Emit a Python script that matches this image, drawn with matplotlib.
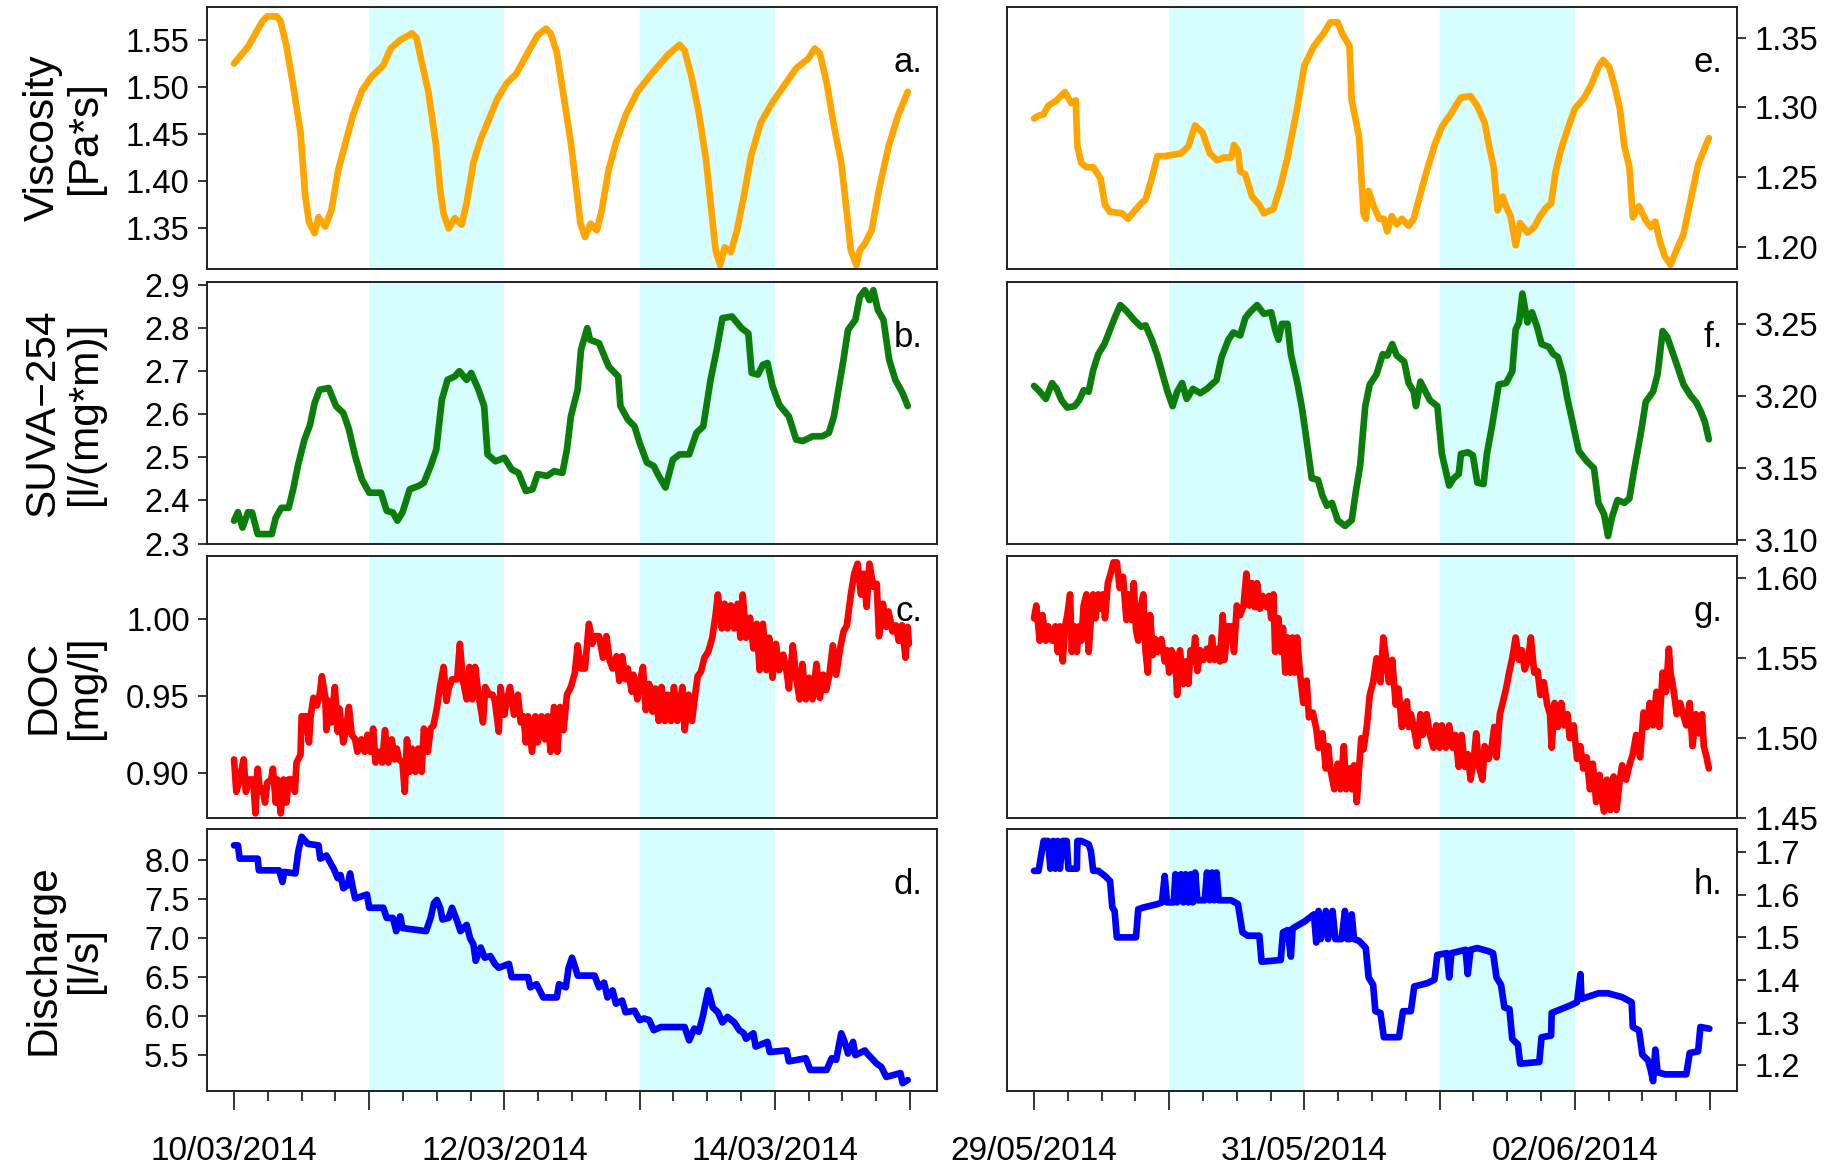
import numpy as np
import matplotlib
matplotlib.use('Agg')
import matplotlib.pyplot as plt
from matplotlib import font_manager
from matplotlib.ticker import FixedLocator

# ---- data: (hour since start, value) ----
visc_mar = [(0, 1.525), (2.5, 1.543), (5.05, 1.570), (5.9, 1.575), (7.6, 1.575), (8.25, 1.570), (9.26, 1.545),
            (10.5, 1.502), (11.8, 1.452), (12.6, 1.387), (13.3, 1.357), (14.3, 1.345), (15.0, 1.362), (16.2, 1.352),
            (17.3, 1.370), (18.5, 1.412), (19.8, 1.441), (21.1, 1.470), (22.7, 1.496), (24.4, 1.511), (26.5, 1.523),
            (27.8, 1.541), (29.5, 1.550), (31.6, 1.557), (32.4, 1.552), (33.3, 1.527), (34.5, 1.495), (35.8, 1.441),
            (36.6, 1.391), (37.2, 1.366), (38.1, 1.350), (39.2, 1.361), (40.4, 1.354), (41.3, 1.377), (42.5, 1.420),
            (43.8, 1.445), (45.0, 1.462), (46.7, 1.487), (48.4, 1.504), (50.1, 1.514), (52.2, 1.537), (53.9, 1.555),
            (55.4, 1.562), (56.2, 1.557), (57.3, 1.537), (58.5, 1.491), (59.8, 1.441), (60.8, 1.391), (61.5, 1.355),
            (62.3, 1.341), (63.3, 1.355), (64.4, 1.348), (65.3, 1.370), (66.5, 1.412), (67.8, 1.441), (69.5, 1.470),
            (71.6, 1.495), (74.1, 1.514), (77.0, 1.534), (79.1, 1.545), (80.0, 1.539), (81.3, 1.509), (82.5, 1.473),
            (83.8, 1.423), (84.6, 1.377), (85.5, 1.327), (86.3, 1.311), (87.1, 1.330), (88.2, 1.325), (89.3, 1.348),
            (90.5, 1.384), (91.8, 1.427), (93.5, 1.462), (95.6, 1.484), (97.7, 1.502), (99.8, 1.520), (101.9, 1.530),
            (103.1, 1.541), (104.0, 1.536), (105.2, 1.505), (106.5, 1.459), (107.8, 1.420), (108.6, 1.377),
            (109.5, 1.327), (110.5, 1.311), (111.1, 1.327), (112.0, 1.334), (113.2, 1.348), (114.5, 1.391),
            (116.2, 1.437), (117.9, 1.470), (119.6, 1.495)]

suva_mar = [(0, 2.353), (0.7, 2.373), (1.5, 2.337), (2.5, 2.373), (3.2, 2.372), (4.2, 2.322), (6.7, 2.322),
            (7.4, 2.360), (8.4, 2.383), (9.7, 2.383), (10.5, 2.426), (11.4, 2.484), (12.5, 2.541), (13.5, 2.576),
            (14.3, 2.626), (15.2, 2.657), (16.8, 2.661), (18.1, 2.619), (19.4, 2.603), (20.4, 2.565), (21.5, 2.503),
            (22.7, 2.449), (24.0, 2.418), (26.1, 2.418), (27.1, 2.376), (28.2, 2.372), (29.0, 2.353), (29.9, 2.372),
            (31.2, 2.426), (32.8, 2.434), (33.7, 2.441), (34.9, 2.480), (35.9, 2.518), (36.9, 2.634), (37.9, 2.680),
            (39.2, 2.688), (40.0, 2.700), (41.3, 2.680), (42.1, 2.696), (43.4, 2.657), (44.4, 2.619), (45.0, 2.507),
            (46.4, 2.491), (48.0, 2.499), (49.3, 2.472), (50.5, 2.464), (51.8, 2.422), (53.0, 2.426), (53.9, 2.461),
            (55.6, 2.457), (56.8, 2.468), (58.3, 2.464), (59.1, 2.518), (59.8, 2.595), (61.0, 2.657), (61.6, 2.750),
            (62.7, 2.800), (63.2, 2.773), (64.8, 2.765), (66.5, 2.711), (68.2, 2.688), (68.6, 2.619), (69.9, 2.588),
            (71.1, 2.572), (72.0, 2.534), (73.3, 2.488), (74.5, 2.480), (75.4, 2.457), (76.6, 2.430), (77.9, 2.495),
            (79.1, 2.507), (80.8, 2.507), (82.1, 2.557), (83.3, 2.572), (84.6, 2.680), (85.7, 2.750), (86.7, 2.823),
            (88.4, 2.827), (90.1, 2.800), (91.3, 2.788), (91.9, 2.696), (93.0, 2.692), (93.9, 2.715), (94.7, 2.719),
            (95.6, 2.665), (96.8, 2.622), (98.5, 2.595), (99.8, 2.541), (101.0, 2.538), (102.7, 2.549),
            (104.4, 2.549), (105.6, 2.557), (106.5, 2.595), (108.2, 2.727), (109.0, 2.796), (110.3, 2.819),
            (111.1, 2.873), (112.0, 2.888), (112.8, 2.865), (113.5, 2.888), (114.3, 2.842), (115.3, 2.819),
            (116.3, 2.727), (117.4, 2.680), (118.7, 2.649), (119.6, 2.619)]

doc_mar = [(0.0, 0.909), (0.4, 0.888), (1.0, 0.896), (1.7, 0.909), (2.1, 0.888), (2.7, 0.896), (3.4, 0.896),
           (3.8, 0.874), (4.2, 0.903), (4.6, 0.888), (5.1, 0.890), (5.5, 0.881), (5.9, 0.894), (6.6, 0.896),
           (6.9, 0.903), (7.4, 0.881), (7.7, 0.896), (8.3, 0.874), (8.8, 0.896), (9.3, 0.881), (9.7, 0.896),
           (10.3, 0.896), (10.8, 0.888), (11.1, 0.907), (11.8, 0.912), (12.0, 0.937), (12.8, 0.937), (13.3, 0.920),
           (13.6, 0.937), (14.1, 0.949), (14.7, 0.944), (15.2, 0.951), (15.6, 0.963), (16.2, 0.949), (16.4, 0.928),
           (16.8, 0.947), (17.3, 0.933), (17.9, 0.956), (18.4, 0.927), (18.7, 0.942), (19.4, 0.920), (19.8, 0.927),
           (20.4, 0.943), (20.9, 0.925), (21.5, 0.922), (21.9, 0.914), (22.6, 0.922), (23.2, 0.914), (23.7, 0.925),
           (24.2, 0.914), (24.7, 0.929), (25.1, 0.907), (25.7, 0.914), (26.3, 0.907), (26.8, 0.928), (27.4, 0.907),
           (28.0, 0.922), (28.5, 0.909), (28.9, 0.916), (29.3, 0.909), (29.9, 0.907), (30.3, 0.888), (30.7, 0.922),
           (31.2, 0.901), (31.6, 0.916), (32.2, 0.901), (32.7, 0.916), (33.3, 0.901), (33.7, 0.929), (34.4, 0.914),
           (34.9, 0.929), (35.4, 0.931), (36.0, 0.942), (36.6, 0.957), (37.2, 0.969), (37.7, 0.947), (38.1, 0.955),
           (38.7, 0.961), (39.6, 0.961), (40.1, 0.984), (40.6, 0.961), (41.3, 0.948), (41.8, 0.969), (42.3, 0.948),
           (42.8, 0.969), (43.4, 0.951), (44.2, 0.933), (44.6, 0.956), (45.3, 0.951), (45.9, 0.951), (46.3, 0.947),
           (47.0, 0.927), (47.3, 0.956), (48.0, 0.938), (48.4, 0.947), (49.0, 0.956), (49.7, 0.938), (50.4, 0.951),
           (50.9, 0.933), (51.4, 0.937), (51.8, 0.920), (52.2, 0.937), (52.9, 0.914), (53.5, 0.937), (53.9, 0.920),
           (54.6, 0.937), (55.2, 0.922), (55.7, 0.937), (56.2, 0.914), (56.8, 0.943), (57.4, 0.914), (57.9, 0.943),
           (58.5, 0.928), (59.1, 0.951), (59.8, 0.956), (60.5, 0.965), (61.0, 0.983), (61.6, 0.968), (62.3, 0.968),
           (63.0, 0.997), (63.6, 0.984), (64.0, 0.989), (64.8, 0.989), (65.5, 0.975), (66.1, 0.989), (66.7, 0.973),
           (67.2, 0.968), (67.9, 0.976), (68.4, 0.960), (68.9, 0.976), (69.5, 0.961), (69.9, 0.968), (70.6, 0.953),
           (70.9, 0.964), (71.6, 0.948), (72.0, 0.958), (72.6, 0.969), (73.1, 0.941), (73.7, 0.958), (74.3, 0.940),
           (74.8, 0.955), (75.4, 0.934), (75.9, 0.956), (76.5, 0.934), (77.0, 0.951), (77.6, 0.934), (78.1, 0.956),
           (78.7, 0.934), (79.1, 0.944), (79.6, 0.956), (80.0, 0.928), (80.7, 0.951), (81.3, 0.934), (81.8, 0.949),
           (82.3, 0.963), (82.9, 0.966), (83.5, 0.975), (84.2, 0.979), (84.9, 0.988), (85.5, 1.003), (85.9, 1.016),
           (86.6, 0.994), (87.1, 1.010), (87.6, 0.994), (88.2, 1.009), (88.8, 0.994), (89.4, 1.010), (89.9, 0.988),
           (90.3, 1.016), (90.9, 0.988), (91.6, 1.001), (92.2, 0.981), (92.8, 0.997), (93.3, 0.967), (93.9, 0.997),
           (94.5, 0.967), (95.0, 0.988), (95.6, 0.962), (96.2, 0.984), (96.8, 0.967), (97.5, 0.977), (98.1, 0.966),
           (98.5, 0.955), (99.2, 0.983), (99.8, 0.962), (100.4, 0.948), (100.9, 0.971), (101.5, 0.948),
           (102.1, 0.962), (102.7, 0.948), (103.4, 0.971), (104.0, 0.949), (104.6, 0.964), (105.1, 0.954),
           (105.7, 0.964), (106.3, 0.983), (106.9, 0.964), (107.6, 0.981), (108.2, 0.992), (108.8, 0.996),
           (109.5, 1.016), (110.1, 1.0295), (110.7, 1.036), (111.3, 1.016), (111.8, 1.0295), (112.3, 1.008),
           (112.8, 1.036), (113.5, 1.021), (114.1, 1.023), (114.5, 0.989), (115.2, 1.010), (115.8, 0.995),
           (116.2, 1.005), (116.9, 0.992), (117.5, 0.996), (118.0, 0.986), (118.6, 0.996), (119.2, 0.975),
           (119.6, 0.995), (119.8, 0.984)]

q_mar = [(0.0, 8.19), (0.7, 8.19), (1.0, 8.02), (4.2, 8.02), (4.4, 7.87), (8.0, 7.87), (8.6, 7.72), (8.9, 7.85),
         (10.9, 7.83), (11.4, 8.11), (12.0, 8.30), (13.1, 8.21), (15.0, 8.19), (15.3, 8.02), (16.4, 8.06),
         (17.3, 7.94), (17.7, 7.89), (18.4, 7.77), (18.9, 7.81), (19.4, 7.64), (20.2, 7.68), (20.6, 7.83),
         (21.1, 7.64), (21.5, 7.51), (23.6, 7.56), (24.0, 7.39), (26.5, 7.39), (27.1, 7.26), (28.2, 7.26),
         (28.8, 7.09), (29.5, 7.28), (29.9, 7.13), (32.0, 7.11), (34.1, 7.09), (34.9, 7.26), (35.5, 7.45),
         (36.0, 7.49), (36.6, 7.39), (37.0, 7.24), (38.1, 7.26), (38.7, 7.39), (39.6, 7.22), (40.2, 7.09),
         (41.3, 7.17), (41.9, 7.00), (42.5, 6.92), (42.9, 6.71), (43.8, 6.88), (44.5, 6.75), (45.5, 6.77),
         (46.3, 6.67), (47.0, 6.62), (48.8, 6.67), (49.3, 6.50), (52.2, 6.50), (52.6, 6.37), (53.7, 6.41),
         (54.9, 6.24), (57.3, 6.24), (57.7, 6.41), (58.9, 6.37), (59.4, 6.62), (60.0, 6.75), (60.6, 6.62),
         (61.0, 6.52), (64.0, 6.52), (64.8, 6.37), (65.7, 6.43), (66.3, 6.24), (67.2, 6.33), (67.8, 6.16),
         (68.9, 6.20), (69.5, 6.05), (71.1, 6.07), (72.0, 5.95), (72.8, 5.97), (73.7, 5.95), (74.5, 5.82),
         (75.8, 5.86), (80.0, 5.86), (80.8, 5.69), (81.7, 5.84), (82.5, 5.80), (83.2, 5.99), (83.8, 6.20),
         (84.2, 6.33), (85.0, 6.11), (85.9, 6.05), (86.7, 5.92), (87.6, 5.99), (88.8, 5.92), (89.7, 5.82),
         (90.5, 5.78), (90.9, 5.71), (92.2, 5.78), (92.6, 5.61), (94.7, 5.67), (95.1, 5.54), (98.1, 5.56),
         (98.5, 5.42), (101.5, 5.46), (102.3, 5.31), (105.2, 5.31), (106.1, 5.46), (106.9, 5.44), (107.8, 5.78),
         (108.4, 5.67), (109.0, 5.52), (109.9, 5.67), (110.3, 5.50), (112.0, 5.56), (112.4, 5.52), (113.2, 5.46),
         (114.1, 5.39), (114.9, 5.35), (115.8, 5.22), (118.3, 5.27), (118.7, 5.14), (119.6, 5.18)]

visc_jun = [(0, 1.292), (0.8, 1.294), (1.7, 1.295), (2.5, 1.301), (4.0, 1.305), (5.5, 1.311), (6.6, 1.303),
            (7.4, 1.305), (7.7, 1.272), (8.4, 1.260), (9.3, 1.257), (10.5, 1.257), (11.8, 1.249), (12.6, 1.230),
            (13.5, 1.225), (15.6, 1.224), (16.7, 1.220), (17.7, 1.225), (19.0, 1.231), (19.8, 1.234), (20.9, 1.249),
            (21.9, 1.265), (23.2, 1.265), (26.1, 1.267), (27.4, 1.272), (28.6, 1.287), (29.9, 1.282), (31.2, 1.267),
            (32.5, 1.262), (33.7, 1.264), (35.0, 1.264), (35.5, 1.273), (36.2, 1.269), (36.6, 1.254), (37.5, 1.252),
            (38.7, 1.236), (40.0, 1.230), (40.8, 1.224), (42.5, 1.227), (43.8, 1.244), (45.0, 1.264), (46.7, 1.299),
            (48.0, 1.330), (49.7, 1.344), (51.4, 1.353), (52.6, 1.361), (53.9, 1.361), (54.7, 1.353), (56.0, 1.344),
            (56.4, 1.305), (57.7, 1.279), (58.5, 1.224), (58.9, 1.220), (59.4, 1.240), (60.2, 1.230), (61.3, 1.220),
            (62.1, 1.220), (62.7, 1.211), (63.5, 1.222), (64.4, 1.216), (65.3, 1.220), (66.5, 1.215), (67.4, 1.220),
            (68.6, 1.238), (69.9, 1.257), (71.2, 1.274), (72.4, 1.286), (74.1, 1.296), (75.8, 1.307), (77.5, 1.308),
            (78.7, 1.301), (80.0, 1.289), (80.8, 1.272), (81.6, 1.257), (82.3, 1.226), (83.2, 1.236), (83.8, 1.229),
            (84.6, 1.222), (85.5, 1.201), (86.3, 1.217), (87.6, 1.210), (88.8, 1.214), (89.7, 1.221), (90.9, 1.228),
            (91.8, 1.231), (92.6, 1.254), (93.5, 1.269), (94.7, 1.284), (96.0, 1.299), (97.7, 1.307), (98.9, 1.316),
            (100.2, 1.329), (101.0, 1.334), (102.1, 1.329), (103.1, 1.315), (104.0, 1.299), (104.8, 1.272),
            (105.7, 1.257), (106.3, 1.221), (107.4, 1.229), (108.6, 1.219), (109.5, 1.214), (110.3, 1.218),
            (111.1, 1.204), (112.0, 1.193), (113.0, 1.187), (114.1, 1.198), (115.3, 1.209), (116.6, 1.234),
            (117.9, 1.259), (118.9, 1.269), (119.8, 1.278)]

suva_jun = [(0, 3.207), (0.8, 3.204), (2.1, 3.198), (3.2, 3.209), (4.0, 3.205), (4.9, 3.197), (5.9, 3.192),
            (7.2, 3.193), (8.0, 3.197), (8.8, 3.204), (9.7, 3.203), (10.5, 3.218), (11.4, 3.229), (12.5, 3.236),
            (13.5, 3.246), (14.3, 3.254), (15.3, 3.263), (16.4, 3.259), (17.7, 3.253), (19.0, 3.248), (19.8, 3.249),
            (20.9, 3.239), (21.9, 3.228), (22.9, 3.214), (23.7, 3.203), (24.6, 3.193), (25.4, 3.203), (26.3, 3.209),
            (27.1, 3.198), (28.2, 3.205), (29.5, 3.202), (30.7, 3.205), (32.4, 3.211), (33.3, 3.227), (34.5, 3.239),
            (35.4, 3.244), (36.6, 3.242), (37.5, 3.254), (38.3, 3.258), (39.6, 3.263), (40.8, 3.257), (42.1, 3.258),
            (42.8, 3.246), (43.4, 3.239), (44.0, 3.250), (45.0, 3.250), (45.6, 3.229), (46.7, 3.210), (47.6, 3.191),
            (48.4, 3.169), (49.3, 3.143), (50.4, 3.142), (51.2, 3.131), (52.0, 3.124), (52.9, 3.126), (53.9, 3.114),
            (55.2, 3.110), (56.4, 3.114), (57.1, 3.133), (57.9, 3.152), (58.8, 3.193), (59.6, 3.208), (60.8, 3.215),
            (61.9, 3.229), (62.7, 3.228), (63.6, 3.236), (64.4, 3.228), (65.7, 3.224), (66.5, 3.209), (67.4, 3.203),
            (67.8, 3.193), (68.6, 3.210), (69.5, 3.203), (70.3, 3.197), (71.6, 3.193), (72.4, 3.160), (73.7, 3.138),
            (74.5, 3.143), (75.4, 3.146), (75.8, 3.160), (77.0, 3.161), (77.9, 3.159), (78.7, 3.140), (79.8, 3.139),
            (80.4, 3.160), (81.3, 3.179), (82.5, 3.208), (83.8, 3.209), (84.9, 3.217), (85.5, 3.246), (86.1, 3.251),
            (86.7, 3.271), (87.6, 3.251), (88.4, 3.258), (89.3, 3.248), (90.1, 3.236), (91.4, 3.234), (92.2, 3.229),
            (93.0, 3.227), (93.9, 3.215), (94.7, 3.198), (95.6, 3.182), (96.7, 3.162), (98.1, 3.155), (99.4, 3.150),
            (100.2, 3.126), (101.2, 3.118), (101.9, 3.103), (102.6, 3.116), (103.6, 3.128), (104.8, 3.126),
            (105.7, 3.129), (106.5, 3.148), (107.8, 3.176), (108.6, 3.196), (109.9, 3.203), (110.7, 3.215),
            (111.6, 3.245), (112.4, 3.241), (113.2, 3.232), (114.1, 3.222), (115.3, 3.208), (116.6, 3.200),
            (117.5, 3.196), (118.3, 3.190), (119.1, 3.182), (119.8, 3.170)]

doc_jun = [(0.0, 1.575), (0.4, 1.583), (1.0, 1.561), (1.5, 1.577), (2.1, 1.561), (2.5, 1.570), (3.2, 1.561),
           (3.8, 1.570), (4.2, 1.554), (4.6, 1.570), (5.1, 1.548), (5.5, 1.570), (5.9, 1.577), (6.4, 1.590),
           (6.7, 1.554), (7.2, 1.570), (7.6, 1.554), (8.0, 1.570), (8.4, 1.561), (8.8, 1.583), (9.3, 1.590),
           (9.7, 1.554), (10.1, 1.575), (10.5, 1.590), (10.9, 1.575), (11.4, 1.590), (11.8, 1.581), (12.2, 1.590),
           (12.6, 1.575), (13.1, 1.597), (13.6, 1.603), (14.1, 1.610), (14.7, 1.610), (15.2, 1.594), (15.8, 1.601),
           (16.4, 1.574), (16.8, 1.590), (17.3, 1.574), (17.7, 1.597), (18.1, 1.568), (18.5, 1.561), (18.9, 1.581),
           (19.4, 1.590), (19.8, 1.554), (20.2, 1.541), (20.6, 1.577), (21.1, 1.552), (21.5, 1.562), (21.9, 1.554),
           (22.6, 1.562), (23.2, 1.548), (23.6, 1.555), (24.0, 1.541), (24.4, 1.555), (25.1, 1.549), (25.4, 1.527),
           (25.9, 1.555), (26.5, 1.534), (26.9, 1.548), (27.4, 1.534), (27.8, 1.555), (28.2, 1.548), (28.6, 1.563),
           (29.0, 1.542), (29.5, 1.555), (30.1, 1.549), (30.7, 1.556), (31.2, 1.549), (31.6, 1.563), (32.0, 1.549),
           (32.7, 1.556), (33.0, 1.548), (33.5, 1.577), (33.8, 1.549), (34.4, 1.570), (35.0, 1.570), (35.5, 1.554),
           (36.0, 1.583), (36.6, 1.577), (37.2, 1.583), (37.7, 1.603), (38.2, 1.583), (38.7, 1.597), (39.2, 1.582),
           (39.6, 1.597), (40.1, 1.581), (40.6, 1.589), (41.3, 1.582), (41.7, 1.589), (42.1, 1.575), (42.5, 1.590),
           (42.8, 1.554), (43.4, 1.575), (43.8, 1.554), (44.2, 1.569), (44.6, 1.541), (45.0, 1.563), (45.5, 1.541),
           (45.9, 1.563), (46.3, 1.541), (46.7, 1.563), (47.2, 1.541), (47.8, 1.522), (48.4, 1.536), (48.8, 1.513),
           (49.5, 1.516), (50.1, 1.506), (50.5, 1.494), (51.2, 1.503), (51.8, 1.481), (52.2, 1.495), (52.6, 1.481),
           (53.3, 1.468), (53.9, 1.484), (54.4, 1.468), (55.0, 1.495), (55.4, 1.468), (56.0, 1.481), (56.4, 1.468),
           (56.8, 1.483), (57.3, 1.460), (57.7, 1.481), (58.1, 1.500), (58.5, 1.493), (59.1, 1.508), (59.6, 1.527),
           (60.2, 1.535), (60.8, 1.550), (61.5, 1.535), (62.0, 1.563), (62.5, 1.550), (63.0, 1.535), (63.6, 1.549),
           (64.2, 1.521), (64.7, 1.531), (65.3, 1.507), (65.7, 1.515), (66.2, 1.523), (66.5, 1.507), (66.9, 1.515),
           (67.4, 1.507), (68.0, 1.495), (68.6, 1.515), (69.0, 1.502), (69.7, 1.515), (70.3, 1.502), (70.9, 1.494),
           (71.4, 1.508), (72.0, 1.494), (72.4, 1.508), (73.1, 1.494), (73.7, 1.508), (74.3, 1.494), (74.8, 1.502),
           (75.4, 1.482), (75.9, 1.502), (76.5, 1.482), (77.0, 1.490), (77.5, 1.474), (78.1, 1.488), (78.5, 1.503),
           (79.0, 1.482), (79.6, 1.474), (80.0, 1.495), (80.7, 1.487), (81.3, 1.496), (81.7, 1.507), (82.1, 1.488),
           (82.7, 1.515), (83.2, 1.522), (83.8, 1.531), (84.4, 1.542), (84.9, 1.550), (85.5, 1.563), (86.1, 1.549),
           (86.6, 1.555), (87.1, 1.543), (87.7, 1.549), (88.2, 1.563), (88.8, 1.541), (89.4, 1.542), (89.9, 1.527),
           (90.5, 1.535), (91.1, 1.521), (91.6, 1.515), (91.9, 1.494), (92.4, 1.522), (93.0, 1.507), (93.6, 1.522),
           (94.1, 1.508), (94.7, 1.515), (95.1, 1.500), (95.8, 1.508), (96.4, 1.487), (97.0, 1.495), (97.5, 1.481),
           (98.1, 1.488), (98.7, 1.468), (99.2, 1.484), (99.8, 1.460), (100.4, 1.477), (100.9, 1.460),
           (101.2, 1.454), (101.7, 1.474), (102.3, 1.455), (102.9, 1.476), (103.4, 1.455), (104.0, 1.474),
           (104.4, 1.483), (105.1, 1.474), (105.7, 1.483), (106.3, 1.490), (106.9, 1.502), (107.6, 1.488),
           (108.2, 1.516), (108.8, 1.507), (109.3, 1.522), (109.9, 1.508), (110.5, 1.529), (111.0, 1.507),
           (111.6, 1.541), (112.2, 1.529), (112.7, 1.556), (113.0, 1.541), (113.5, 1.531), (114.1, 1.515),
           (114.7, 1.522), (115.2, 1.515), (115.8, 1.508), (116.4, 1.522), (116.9, 1.495), (117.5, 1.515),
           (118.0, 1.503), (118.6, 1.515), (118.9, 1.495), (119.4, 1.488), (119.8, 1.481)]

q_jun = [(0.0, 1.656), (0.8, 1.656), (1.7, 1.726), (2.5, 1.726), (2.9, 1.661), (3.4, 1.726), (3.8, 1.661),
         (4.2, 1.726), (4.6, 1.661), (5.1, 1.726), (5.8, 1.726), (6.1, 1.661), (7.6, 1.661), (7.7, 1.726),
         (8.4, 1.726), (9.7, 1.718), (10.1, 1.702), (10.5, 1.656), (11.4, 1.656), (12.6, 1.644), (13.5, 1.632),
         (13.9, 1.570), (14.3, 1.562), (14.7, 1.500), (18.1, 1.500), (18.5, 1.566), (19.4, 1.570), (21.9, 1.578),
         (22.7, 1.582), (23.2, 1.644), (23.6, 1.582), (24.8, 1.582), (25.1, 1.648), (25.4, 1.582), (26.1, 1.648),
         (26.5, 1.582), (26.9, 1.648), (27.4, 1.582), (27.8, 1.648), (28.2, 1.582), (28.6, 1.652), (29.0, 1.587),
         (30.3, 1.587), (30.7, 1.652), (31.2, 1.587), (31.6, 1.652), (32.0, 1.587), (32.4, 1.652), (32.8, 1.587),
         (35.0, 1.587), (36.2, 1.578), (37.0, 1.512), (37.9, 1.504), (40.0, 1.504), (40.4, 1.443), (43.8, 1.447),
         (44.2, 1.512), (45.0, 1.517), (45.6, 1.455), (45.9, 1.521), (48.0, 1.537), (49.7, 1.554), (50.1, 1.488),
         (50.5, 1.562), (50.9, 1.496), (51.8, 1.562), (52.2, 1.496), (53.0, 1.562), (53.5, 1.496), (54.6, 1.496),
         (55.2, 1.562), (55.6, 1.496), (56.0, 1.496), (56.4, 1.554), (56.8, 1.496), (57.7, 1.492), (58.9, 1.475),
         (59.4, 1.406), (60.2, 1.389), (60.6, 1.327), (61.5, 1.323), (62.1, 1.266), (64.8, 1.266), (65.5, 1.327),
         (66.9, 1.327), (67.5, 1.385), (69.9, 1.393), (71.1, 1.401), (71.6, 1.459), (73.3, 1.463), (73.7, 1.406),
         (74.1, 1.463), (76.6, 1.471), (77.0, 1.414), (77.5, 1.471), (78.7, 1.475), (80.8, 1.467), (81.5, 1.463),
         (82.1, 1.406), (82.9, 1.389), (83.5, 1.336), (84.4, 1.332), (84.9, 1.262), (85.9, 1.249), (86.3, 1.204),
         (89.7, 1.208), (90.1, 1.266), (91.8, 1.270), (91.9, 1.323), (95.1, 1.340), (96.4, 1.348), (97.0, 1.414),
         (97.2, 1.356), (100.2, 1.369), (101.9, 1.369), (104.4, 1.360), (106.1, 1.348), (106.3, 1.290),
         (107.4, 1.282), (108.0, 1.225), (109.0, 1.212), (109.5, 1.188), (109.9, 1.163), (110.3, 1.237),
         (110.7, 1.184), (112.0, 1.179), (113.7, 1.179), (115.8, 1.179), (116.4, 1.229), (117.9, 1.233),
         (118.3, 1.290), (119.9, 1.286)]

ylabels = ['Viscosity\n[Pa*s]', 'SUVA\u2212254\n[l/(mg*m)]', 'DOC\n[mg/l]', 'Discharge\n[l/s]']
letters_left = ['a.', 'b.', 'c.', 'd.']
letters_right = ['e.', 'f.', 'g.', 'h.']
dates_left = ['10/03/2014', '', '12/03/2014', '', '14/03/2014', '']
dates_right = ['29/05/2014', '', '31/05/2014', '', '02/06/2014', '']

yticks_left = [[1.35, 1.40, 1.45, 1.50, 1.55], [2.3, 2.4, 2.5, 2.6, 2.7, 2.8, 2.9],
               [0.90, 0.95, 1.00], [5.5, 6.0, 6.5, 7.0, 7.5, 8.0]]
yticks_right = [[1.20, 1.25, 1.30, 1.35], [3.10, 3.15, 3.20, 3.25],
                [1.45, 1.50, 1.55, 1.60], [1.2, 1.3, 1.4, 1.5, 1.6, 1.7]]
ylims_left = [(1.307, 1.585), (2.299, 2.907), (0.871, 1.041), (5.04, 8.40)]
ylims_right = [(1.184, 1.372), (3.0975, 3.279), (1.45, 1.614), (1.14, 1.754)]
fmts_left = ['%.2f', '%.1f', '%.2f', '%.1f']
fmts_right = ['%.2f', '%.2f', '%.2f', '%.1f']

colors = ['#ffa500', '#0a7d0a', '#ff0000', '#0000ff']
shade = '#d6fefe'


def pick_font(names):
    for n in names:
        try:
            font_manager.findfont(n, fallback_to_default=False)
            return n
        except ValueError:
            pass
    return None


narrow = pick_font(['Liberation Sans Narrow', 'Arial Narrow'])
if narrow:
    tick_font, ytick_fs, xtick_fs, letter_fs = narrow, 27, 28, 27
else:
    tick_font, ytick_fs, xtick_fs, letter_fs = 'Liberation Sans', 23.5, 24, 25
label_font = 'Liberation Sans'

W, H = 1825, 1172
fig = plt.figure(figsize=(W / 100, H / 100), dpi=100)

col_left = [207, 1007]
col_width = 730
row_top = [7, 282, 556, 829]
row_height = 262

series = [[visc_mar, suva_mar, doc_mar, q_mar], [visc_jun, suva_jun, doc_jun, q_jun]]

for c in range(2):
    for r in range(4):
        x0 = col_left[c] / W
        y0 = 1 - (row_top[r] + row_height) / H
        ax = fig.add_axes([x0, y0, col_width / W, row_height / H])
        data = np.array(series[c][r])
        ax.axvspan(1, 2, color=shade, lw=0, zorder=0)
        ax.axvspan(3, 4, color=shade, lw=0, zorder=0)
        ax.plot(data[:, 0] / 24, data[:, 1], color=colors[r], lw=4.8,
                solid_joinstyle='round', solid_capstyle='round', zorder=2)
        ax.set_xlim(-0.2, 5.2)
        ylims = ylims_left if c == 0 else ylims_right
        yt = yticks_left if c == 0 else yticks_right
        fm = fmts_left if c == 0 else fmts_right
        ax.set_ylim(*ylims[r])
        ax.set_yticks(yt[r])
        ax.set_yticklabels([fm[r] % v for v in yt[r]], fontfamily=tick_font, fontsize=ytick_fs)
        for s in ax.spines.values():
            s.set_linewidth(1.4)
            s.set_color('#222222')
        ax.tick_params(axis='y', direction='out', length=6.5, width=1.1, pad=6, colors='black')
        if c == 1:
            ax.yaxis.tick_right()
        if r == 3:
            ax.xaxis.set_major_locator(FixedLocator([0, 1, 2, 3, 4, 5]))
            ax.xaxis.set_minor_locator(FixedLocator([d / 4 for d in range(21) if d % 4]))
            ax.set_xticklabels(dates_left if c == 0 else dates_right,
                               fontfamily=tick_font, fontsize=xtick_fs)
            ax.tick_params(axis='x', which='major', direction='out', length=13.5, width=1.1, pad=19)
            ax.tick_params(axis='x', which='minor', direction='out', length=7, width=1.1)
        else:
            ax.tick_params(axis='x', which='both', bottom=False, labelbottom=False)
        letter = letters_left[r] if c == 0 else letters_right[r]
        ax.text(0.98, 0.752, letter, transform=ax.transAxes, ha='right', va='baseline',
                fontfamily=tick_font, fontsize=letter_fs, zorder=3)
        if c == 0:
            yc = 1 - (row_top[r] + row_height / 2) / H
            fig.text(64 / W, yc, ylabels[r], rotation=90, ha='center', va='center',
                     multialignment='center', fontfamily=label_font, fontsize=30.5, linespacing=1.05)

fig.savefig('out.png', dpi=100)
